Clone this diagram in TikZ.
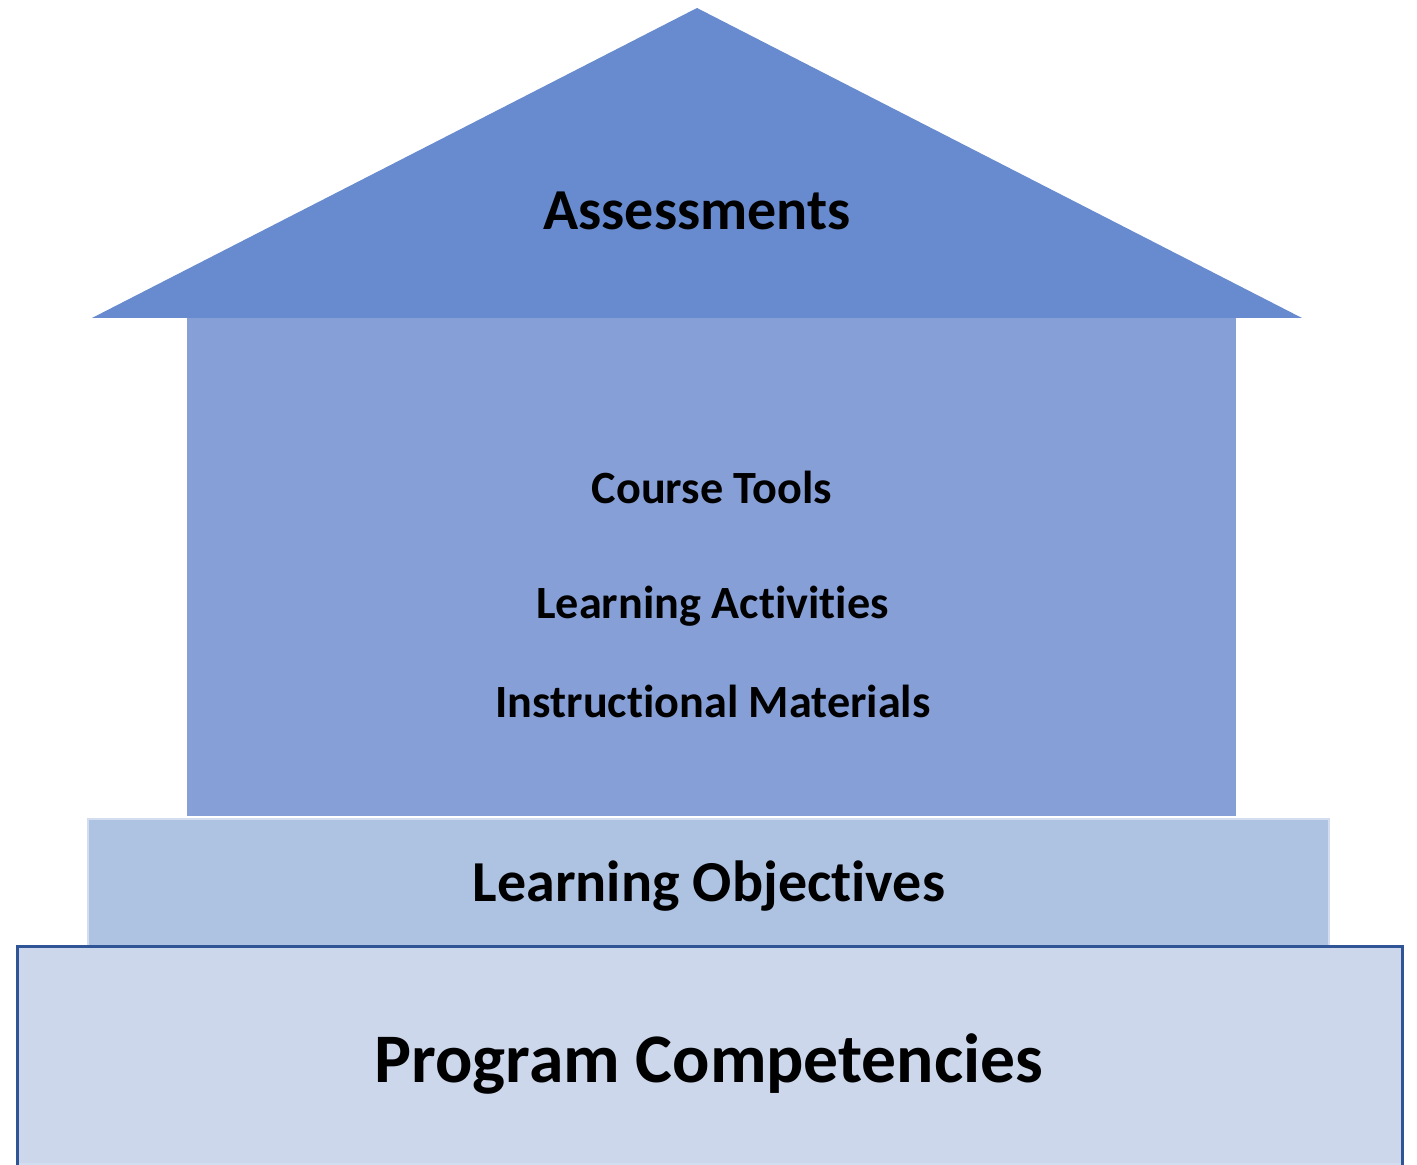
\documentclass[tikz,border=0pt]{standalone}
\usepackage{fontspec}
\setmainfont{Carlito}[RawFeature={-liga,-clig}]
\definecolor{roofblue}{HTML}{678BCE}
\definecolor{wallblue}{HTML}{869FD7}
\definecolor{stepblue}{HTML}{AEC3E2}
\definecolor{baseblue}{HTML}{CCD7EB}
\definecolor{edgeblue}{HTML}{2F5597}
\definecolor{softedge}{HTML}{D3DDF0}
\begin{document}
\begin{tikzpicture}[x=0.5pt,y=-0.5pt,
  label/.style={anchor=base,inner sep=0pt,font=\bfseries},
  big/.style={label,font=\bfseries\fontsize{29}{34}\selectfont},
  mid/.style={label,font=\bfseries\fontsize{23.1}{28}\selectfont},
  huge/.style={label,font=\bfseries\fontsize{34.8}{40}\selectfont}]
\useasboundingbox (0,0) rectangle (1417,1165);
\clip (0,0) rectangle (1417,1165);
% roof
\fill[roofblue] (697,8) -- (1302,318) -- (92,318) -- cycle;
% walls
\fill[wallblue] (187,318) rectangle (1236,816);
% objectives step
\fill[stepblue,draw=softedge,line width=1pt] (88,819) rectangle (1329,946);
% foundation
\fill[baseblue] (16,945) rectangle (1404,1164);
\draw[softedge,line width=1pt] (16,1164) -- (1404,1164);
\draw[edgeblue,line width=1.5pt] (17.5,1170) -- (17.5,946.5) -- (1402.5,946.5) -- (1402.5,1170);
% labels
\node[big]  (assess) at (697,230)  {Assessments};
\node[mid]  (tools)  at (712,503)  {Course Tools};
\node[mid]  (acts)   at (712.5,618) {Learning Activities};
\node[mid]  (mats)   at (713,717)  {Instructional Materials};
\node[big]  (objs)   at (709,901)  {Learning Objectives};
\node[huge] (comps)  at (709,1082) {Program Competencies};
\end{tikzpicture}
\end{document}
